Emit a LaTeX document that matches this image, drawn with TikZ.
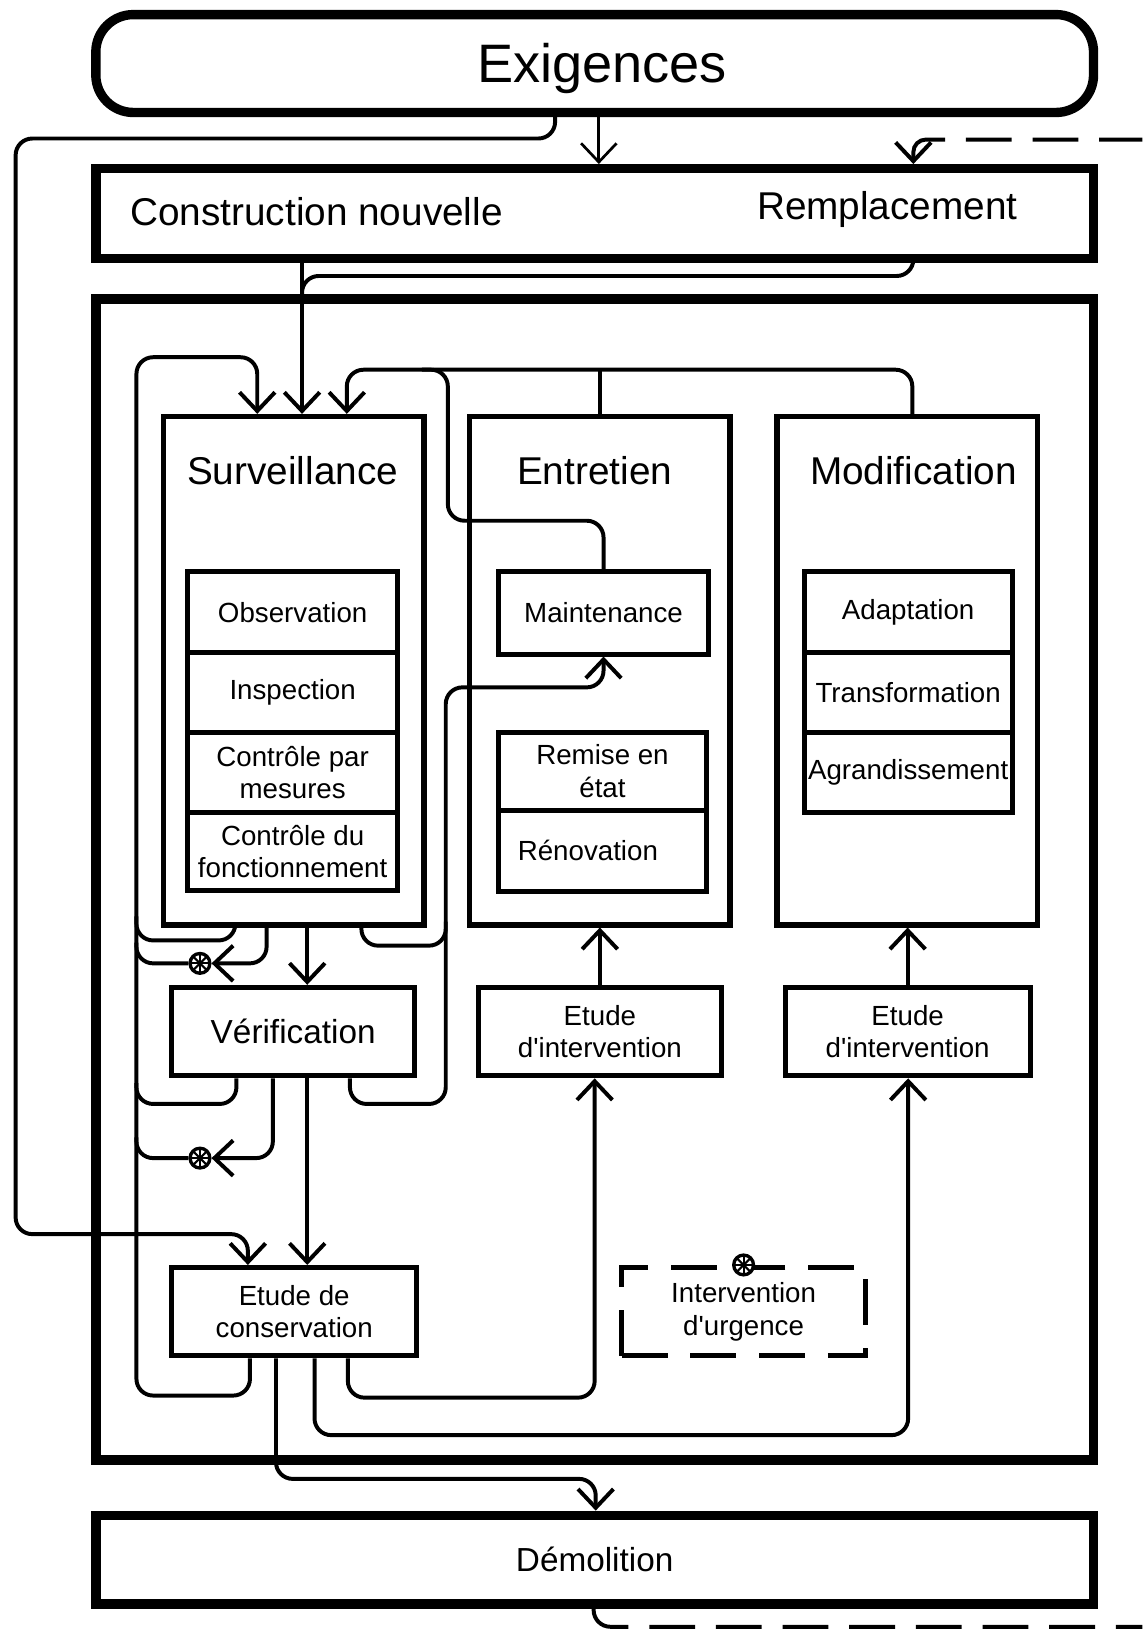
\documentclass[tikz,border=0pt]{standalone}
\usepackage{fontspec}
\setmainfont{Liberation Sans}[Ligatures=TeXOff]
\usetikzlibrary{arrows.meta}

\tikzset{
  >={Straight Barb[length=9pt,width=17pt]},
  sz/.style 2 args={minimum width=#1*0.5pt, minimum height=#2*0.5pt},
  bigbox/.style={draw, line width=4.5pt, inner sep=0pt},
  panel/.style={draw, line width=2.6pt, inner sep=0pt},
  subbox/.style={draw, line width=2.4pt, inner sep=0pt, align=center,
    font=\fontsize{13.3}{15.5}\selectfont},
  headfont/.style={font=\fontsize{18.6}{22}\selectfont},
  midfont/.style={font=\fontsize{16}{19}\selectfont},
  wire/.style={line width=1.9pt, rounded corners=8pt},
  dashwire/.style={wire, dash pattern=on 22pt off 10pt},
  junc/.style={circle, draw, line width=1.6pt, fill=white, inner sep=0pt,
    minimum size=9.5pt, path picture={
      \foreach \a in {0,45,90,135}
        \draw[line width=1pt] (path picture bounding box.center)
          +(\a:5pt) -- +(\a+180:5pt);}},
}

\begin{document}
\begin{tikzpicture}[x=0.5pt, y=-0.5pt]
    \useasboundingbox (0,0) rectangle (1097,1568);

    % Top and outer frames
    \node[bigbox, rounded corners=18pt, sz={958}{94}] (exig) at (571,61) {};
    \node[font=\fontsize{26}{30}\selectfont] (exig-t) at (578,66) {Exigences};
    \node[bigbox, sz={958}{86}] (constr) at (571,205) {};
    \node[headfont, anchor=west] (neuf) at (118,203) {Construction nouvelle};
    \node[headfont] (rempl) at (852,201) {Remplacement};
    \node[bigbox, sz={958}{1115}] (cadre) at (571,844.5) {};
    \node[bigbox, sz={958}{85}, midfont] (demo) at (571,1497.5) {Démolition};

    % The three columns
    \foreach \nm/\x/\tx/\txt in {surv/282/281/Surveillance, entr/576/571/Entretien, modif/871/877/Modification} {
        \node[panel, sz={250}{488}] (\nm) at (\x,644) {};
        \node[headfont] (\nm-t) at (\tx,452) {\txt};
    }
    \foreach \nm/\y/\h/\txt in {obs/588/78/Observation, insp/665/76/Inspection,
        mes/741.5/77/Contrôle par\\mesures, fonc/817.5/75/Contrôle du\\fonctionnement}
        \node[subbox, sz={202}{\h}] (\nm) at (281,\y) {\txt};
    \node[subbox, sz={201}{79}] (maint) at (579.5,588.5) {Maintenance};
    \node[subbox, sz={199}{75}] (remise) at (578.5,740.5) {Remise en\\état};
    \node[subbox, sz={199}{78}] (renov) at (578.5,817) {Rénovation\hspace*{14pt}};
    \foreach \nm/\y/\h/\txt in {adapt/588/78/Adaptation, transf/665/76/Transformation,
        agrand/741.5/77/Agrandissement}
        \node[subbox, sz={200}{\h}] (\nm) at (872,\y) {\txt};

    % Lower boxes
    \node[subbox, sz={233}{85}, midfont] (verif) at (281.5,990.5) {Vérification};
    \node[subbox, sz={234}{85}] (etudeE) at (576,990.5) {Etude\\d'intervention};
    \node[subbox, sz={235}{85}] (etudeM) at (871.5,990.5) {Etude\\d'intervention};
    \node[subbox, sz={235}{85}] (cons) at (282.5,1259.5) {Etude de\\conservation};
    \node[subbox, sz={234}{85}, dash pattern=on 22pt off 11pt] (urg) at (714,1259.5) {Intervention\\d'urgence};

    % Connectors from the top
    \draw[->, line width=1.3pt] (575,0 |- exig.south) -- (575,0 |- constr.north);
    \draw[wire, ->] (533,0 |- exig.south) -- (533,133) -- (15,133) -- (15,1185)
        -- (238,1185) -- (238,0 |- cons.north);
    \draw[dashwire, rounded corners=6pt, <-] (877,0 |- constr.north) -- (877,134) -- (1097,134);
    \draw[wire, ->] (290,0 |- constr.south) -- (290,0 |- surv.north);
    \draw[wire] (877,0 |- constr.south) -- (877,265) -- (290,265) -- (290,292);

    % Feedback into Surveillance
    \draw[wire, ->] (240,0 |- cons.south) -- (240,1340) -- (131,1340) -- (131,343)
        -- (247,343) -- (247,0 |- surv.north);
    \draw[wire, ->] (876,0 |- modif.north) -- (876,355) -- (333,355) -- (333,0 |- surv.north);
    \draw[wire] (entr.north) -- (576,355);
    \draw[wire] (maint.north) -- (579.5,500) -- (430,500) -- (430,355) -- (405,355);

    % Below Surveillance
    \draw[wire] (226,0 |- surv.south) -- (226,903) -- (131,903) -- (131,880);
    \node[junc] (ja) at (192,925) {};
    \draw[wire, ->] (256,0 |- surv.south) -- (256,925) -- (ja);
    \draw[wire] (ja) -- (131,925) -- (131,905);
    \draw[wire, ->] (295,0 |- surv.south) -- (295,0 |- verif.north);
    \draw[wire] (347,0 |- surv.south) -- (347,908) -- (428,908) -- (428,885);

    % Below Verification
    \draw[wire] (227,0 |- verif.south) -- (227,1060) -- (131,1060) -- (131,1040);
    \node[junc] (jb) at (192,1112) {};
    \draw[wire, ->] (262,0 |- verif.south) -- (262,1112) -- (jb);
    \draw[wire] (jb) -- (131,1112) -- (131,1092);
    \draw[wire, ->] (295,0 |- verif.south) -- (295,0 |- cons.north);
    \draw[wire, ->] (336,0 |- verif.south) -- (336,1060) -- (428,1060) -- (428,660)
        -- (579.5,660) -- (maint.south);

    % Studies into the columns
    \draw[wire, ->] (etudeE.north) -- (entr.south);
    \draw[wire, ->] (etudeM.north) -- (etudeM.north |- modif.south);
    \draw[wire, ->] (334,0 |- cons.south) -- (334,1342) -- (571,1342) -- (571,0 |- etudeE.south);
    \draw[wire, ->] (302,0 |- cons.south) -- (302,1378) -- (872,1378) -- (872,0 |- etudeM.south);
    \node[junc] (jc) at (urg.north) {};

    % Towards demolition
    \draw[wire, ->] (265,0 |- cons.south) -- (265,1420) -- (572,1420) -- (572,0 |- demo.north);
    \draw[dashwire] (570,0 |- demo.south) -- (570,1562) -- (1097,1562);
\end{tikzpicture}
\end{document}
